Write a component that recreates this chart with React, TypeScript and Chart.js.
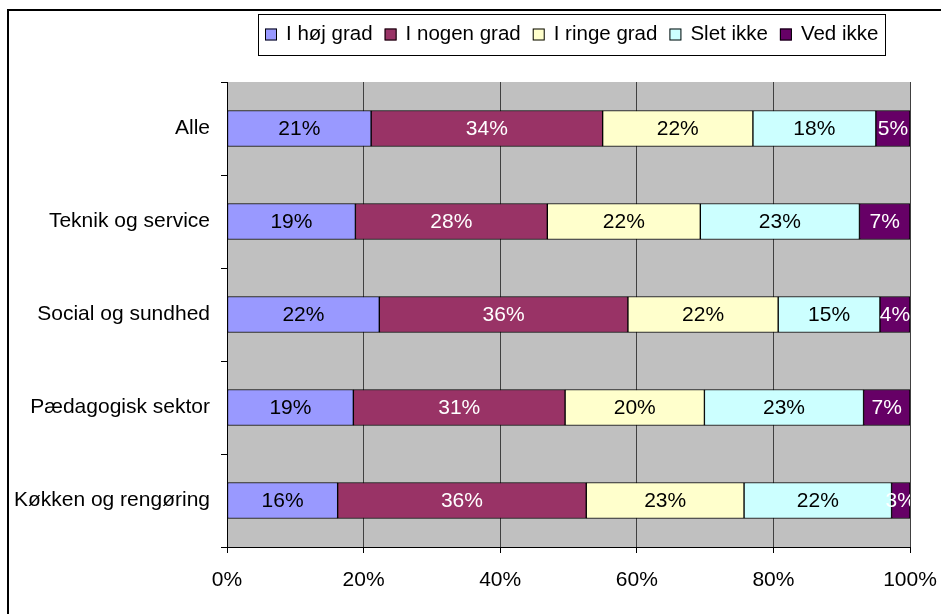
import React, { useEffect, useRef } from 'react';
import { Chart, registerables } from 'chart.js';

Chart.register(...registerables);

const categories = ['Alle', 'Teknik og service', 'Social og sundhed', 'Pædagogisk sektor', 'Køkken og rengøring'];
const seriesNames = ['I høj grad', 'I nogen grad', 'I ringe grad', 'Slet ikke', 'Ved ikke'];
const hojGrad = [21.1, 18.8, 22.3, 18.5, 16.2];
const nogenGrad = [33.9, 28.1, 36.4, 31.0, 36.4];
const ringeGrad = [22.0, 22.4, 22.0, 20.4, 23.1];
const sletIkke = [18.0, 23.3, 14.9, 23.3, 21.6];
const vedIkke = [5.0, 7.4, 4.4, 6.8, 2.7];
const xMin = 0;
const xMax = 100;
const xStep = 20;

const seriesValues = [hojGrad, nogenGrad, ringeGrad, sletIkke, vedIkke];
const seriesColors = ['#9999FF', '#993366', '#FFFFCC', '#CCFFFF', '#660066'];
const labelColors = ['#000000', '#FFFFFF', '#000000', '#000000', '#FFFFFF'];

const FONT = "'Liberation Sans', Arial, sans-serif";
const FS = 21;
const LEGEND_FS = 20.5;

export default function App() {
  const ref = useRef<HTMLCanvasElement>(null);

  useEffect(() => {
    document.body.style.margin = '0';
    document.body.style.overflow = 'hidden';
    const canvas = ref.current;
    if (!canvas) return;

    const bgPlugin = {
      id: 'bgPlot',
      beforeDraw(chart: any) {
        const { ctx, chartArea: a } = chart;
        ctx.save();
        ctx.fillStyle = '#FFFFFF';
        ctx.fillRect(0, 0, chart.width, chart.height);
        ctx.fillStyle = '#C0C0C0';
        ctx.fillRect(a.left, a.top, a.right - a.left, a.bottom - a.top);
        ctx.restore();
      },
    };

    const labelPlugin = {
      id: 'segLabels',
      afterDatasetsDraw(chart: any) {
        const { ctx, chartArea: a } = chart;
        ctx.save();
        ctx.beginPath();
        ctx.rect(a.left, a.top, a.right - a.left, a.bottom - a.top);
        ctx.clip();
        ctx.font = `${FS}px ${FONT}`;
        ctx.textAlign = 'center';
        ctx.textBaseline = 'middle';
        chart.data.datasets.forEach((ds: any, di: number) => {
          const meta = chart.getDatasetMeta(di);
          meta.data.forEach((bar: any, i: number) => {
            const v = ds.data[i];
            const cx = (bar.x + bar.base) / 2;
            ctx.fillStyle = labelColors[di];
            ctx.fillText(`${Math.round(v)}%`, cx, bar.y + 1);
          });
        });
        ctx.restore();
      },
    };

    const legendFramePlugin = {
      id: 'customLegend',
      afterDraw(chart: any) {
        const { ctx, chartArea: a } = chart;
        ctx.save();
        ctx.font = `${LEGEND_FS}px ${FONT}`;
        const items = chart.data.datasets.map((ds: any) => ({
          text: ds.label,
          color: ds.backgroundColor,
          w: ctx.measureText(ds.label).width,
        }));
        const box = 12;
        const gapText = 9;
        const gapItem = 12;
        const padX = 7;
        const total =
          items.reduce((s: number, it: any) => s + box + gapText + it.w, 0) + gapItem * (items.length - 1);
        const center = (a.left + a.right) / 2 + 3;
        let x = Math.round(center - total / 2);
        const boxL = x - padX;
        const boxR = x + total + padX;
        ctx.fillStyle = '#FFFFFF';
        ctx.fillRect(boxL, 14, boxR - boxL, 42);
        ctx.strokeStyle = '#000000';
        ctx.lineWidth = 1;
        ctx.strokeRect(boxL + 0.5, 14.5, Math.round(boxR - boxL), 41);
        const midY = 34.5;
        items.forEach((it: any) => {
          ctx.fillStyle = it.color;
          ctx.fillRect(x, midY - 6, box, box);
          ctx.strokeStyle = '#000000';
          ctx.strokeRect(x + 0.5, midY - 6 + 0.5, box - 1, box - 1);
          ctx.fillStyle = '#000000';
          ctx.textAlign = 'left';
          ctx.textBaseline = 'middle';
          ctx.fillText(it.text, x + box + gapText, midY);
          x += box + gapText + it.w + gapItem;
        });
        // outer chart frame (extends beyond the window)
        ctx.strokeStyle = '#000000';
        ctx.lineWidth = 2;
        ctx.beginPath();
        ctx.moveTo(8, chart.height + 5);
        ctx.lineTo(8, 10);
        ctx.lineTo(chart.width + 5, 10);
        ctx.stroke();
        ctx.restore();
      },
    };

    const chart = new Chart(canvas, {
      type: 'bar',
      data: {
        labels: categories,
        datasets: seriesNames.map((name, i) => ({
          label: name,
          data: seriesValues[i],
          backgroundColor: seriesColors[i],
          borderColor: '#000000',
          borderWidth: 1,
          borderSkipped: false,
          barThickness: 36,
        })),
      },
      options: {
        indexAxis: 'y',
        responsive: false,
        animation: false,
        devicePixelRatio: 1,
        layout: { padding: { left: 0, top: 82, right: 31, bottom: 0 } },
        plugins: {
          legend: { display: false },
          tooltip: { enabled: false },
        },
        scales: {
          x: {
            stacked: true,
            min: xMin,
            max: xMax,
            afterFit: (scale: any) => {
              scale.height = 67;
              scale.paddingLeft = 0;
              scale.paddingRight = 0;
            },
            ticks: {
              stepSize: xStep,
              color: '#000000',
              font: { family: FONT, size: FS },
              padding: 15,
              maxRotation: 0,
              callback: (v: any) => `${v}%`,
            },
            grid: {
              color: '#404040',
              lineWidth: 1,
              drawTicks: true,
              tickLength: 6,
              tickColor: '#000000',
            },
            border: { display: true, color: '#000000', width: 1 },
          },
          y: {
            stacked: true,
            afterFit: (scale: any) => {
              scale.width = 227;
              scale.paddingTop = 0;
              scale.paddingBottom = 0;
            },
            ticks: {
              color: '#000000',
              font: { family: FONT, size: FS },
              padding: 11,
            },
            grid: {
              drawOnChartArea: false,
              drawTicks: true,
              tickLength: 6,
              color: '#000000',
              tickColor: '#000000',
            },
            border: { display: true, color: '#000000', width: 1 },
          },
        },
      },
      plugins: [bgPlugin, labelPlugin, legendFramePlugin],
    } as any);

    return () => {
      chart.destroy();
    };
  }, []);

  return <canvas ref={ref} width={941} height={614} style={{ display: 'block' }} />;
}
